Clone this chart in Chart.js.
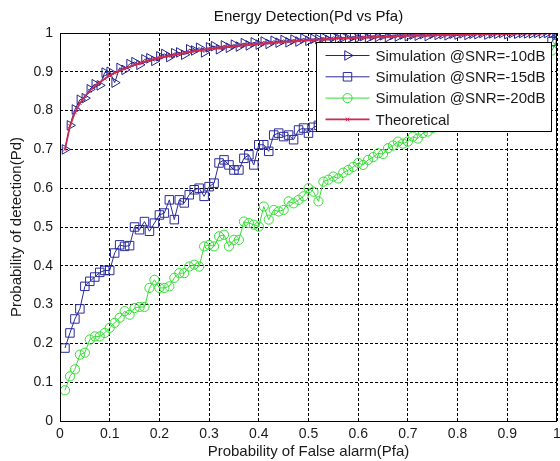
<!DOCTYPE html>
<html>
<head>
<meta charset="utf-8">
<script src="https://cdn.jsdelivr.net/npm/chart.js@4.4.0/dist/chart.umd.min.js"></script>
<style>
    body { margin: 0; background: #fff; }
    #wrap { width: 560px; height: 461px; }
</style>
</head>
<body>
<div id="wrap"><canvas id="rocChart" width="560" height="461"></canvas></div>
<script>
// Pfa grid (x axis)
const pfa = [
    0.01, 0.02, 0.03, 0.04, 0.05, 0.06, 0.07, 0.08, 0.09, 0.10,
    0.11, 0.12, 0.13, 0.14, 0.15, 0.16, 0.17, 0.18, 0.19, 0.20,
    0.21, 0.22, 0.23, 0.24, 0.25, 0.26, 0.27, 0.28, 0.29, 0.30,
    0.31, 0.32, 0.33, 0.34, 0.35, 0.36, 0.37, 0.38, 0.39, 0.40,
    0.41, 0.42, 0.43, 0.44, 0.45, 0.46, 0.47, 0.48, 0.49, 0.50,
    0.51, 0.52, 0.53, 0.54, 0.55, 0.56, 0.57, 0.58, 0.59, 0.60,
    0.61, 0.62, 0.63, 0.64, 0.65, 0.66, 0.67, 0.68, 0.69, 0.70,
    0.71, 0.72, 0.73, 0.74, 0.75, 0.76, 0.77, 0.78, 0.79, 0.80,
    0.81, 0.82, 0.83, 0.84, 0.85, 0.86, 0.87, 0.88, 0.89, 0.90,
    0.91, 0.92, 0.93, 0.94, 0.95, 0.96, 0.97, 0.98, 0.99, 1.00
];

// Pd values
const pdSnr10 = [
    0.700, 0.762, 0.803, 0.828, 0.832, 0.855, 0.868, 0.865, 0.898, 0.900,
    0.872, 0.910, 0.905, 0.920, 0.925, 0.918, 0.932, 0.935, 0.928, 0.940,
    0.946, 0.938, 0.948, 0.950, 0.944, 0.958, 0.955, 0.962, 0.950, 0.963,
    0.966, 0.958, 0.968, 0.962, 0.970, 0.965, 0.974, 0.968, 0.976, 0.970,
    0.978, 0.972, 0.980, 0.975, 0.982, 0.976, 0.983, 0.978, 0.986, 0.980,
    0.985, 0.984, 0.988, 0.982, 0.990, 0.986, 0.989, 0.985, 0.991, 0.988,
    0.992, 0.987, 0.993, 0.990, 0.994, 0.989, 0.995, 0.991, 0.996, 0.992,
    0.996, 0.993, 0.997, 0.992, 0.998, 0.995, 0.997, 0.994, 0.998, 0.996,
    0.999, 0.995, 0.998, 0.997, 1.000, 0.996, 0.999, 0.998, 1.000, 0.997,
    1.000, 0.998, 1.000, 0.999, 0.999, 1.000, 0.999, 1.000, 1.000, 1.000
];
const pdSnr15 = [
    0.188, 0.227, 0.263, 0.289, 0.347, 0.360, 0.371, 0.383, 0.388, 0.388,
    0.433, 0.454, 0.450, 0.452, 0.500, 0.493, 0.514, 0.489, 0.510, 0.531,
    0.536, 0.570, 0.519, 0.570, 0.562, 0.583, 0.596, 0.600, 0.579, 0.604,
    0.613, 0.665, 0.673, 0.660, 0.647, 0.647, 0.677, 0.686, 0.660, 0.712,
    0.712, 0.695, 0.737, 0.742, 0.733, 0.737, 0.725, 0.750, 0.755, 0.742,
    0.757, 0.762, 0.768, 0.772, 0.770, 0.778, 0.784, 0.780, 0.790, 0.795,
    0.800, 0.805, 0.803, 0.812, 0.818, 0.815, 0.825, 0.830, 0.828, 0.836,
    0.842, 0.840, 0.850, 0.855, 0.853, 0.862, 0.866, 0.864, 0.872, 0.878,
    0.876, 0.884, 0.888, 0.892, 0.895, 0.900, 0.904, 0.908, 0.912, 0.918,
    0.922, 0.926, 0.932, 0.936, 0.942, 0.948, 0.955, 0.963, 0.978, 0.995
];
const pdSnr20 = [
    0.079, 0.115, 0.133, 0.171, 0.176, 0.210, 0.218, 0.218, 0.227, 0.240,
    0.253, 0.266, 0.283, 0.274, 0.291, 0.294, 0.294, 0.343, 0.364, 0.343,
    0.343, 0.347, 0.369, 0.381, 0.381, 0.398, 0.403, 0.398, 0.450, 0.454,
    0.450, 0.476, 0.480, 0.450, 0.467, 0.467, 0.514, 0.510, 0.506, 0.501,
    0.553, 0.519, 0.544, 0.540, 0.544, 0.566, 0.561, 0.570, 0.579, 0.600,
    0.591, 0.566, 0.617, 0.622, 0.630, 0.625, 0.640, 0.647, 0.655, 0.665,
    0.660, 0.673, 0.680, 0.690, 0.688, 0.703, 0.710, 0.720, 0.715, 0.720,
    0.733, 0.728, 0.742, 0.746, 0.755, 0.758, 0.765, 0.772, 0.779, 0.786,
    0.790, 0.800, 0.806, 0.812, 0.818, 0.826, 0.834, 0.840, 0.848, 0.856,
    0.865, 0.872, 0.880, 0.890, 0.900, 0.910, 0.922, 0.935, 0.955, 0.982
];
const pdTheory = [
    0.700, 0.760, 0.795, 0.819, 0.837, 0.851, 0.863, 0.873, 0.882, 0.890,
    0.897, 0.903, 0.908, 0.913, 0.918, 0.922, 0.926, 0.930, 0.933, 0.936,
    0.939, 0.941, 0.944, 0.946, 0.949, 0.951, 0.953, 0.955, 0.957, 0.959,
    0.960, 0.962, 0.963, 0.965, 0.966, 0.967, 0.969, 0.970, 0.971, 0.972,
    0.973, 0.974, 0.975, 0.976, 0.977, 0.978, 0.979, 0.980, 0.981, 0.982,
    0.982, 0.983, 0.984, 0.984, 0.985, 0.986, 0.986, 0.987, 0.987, 0.988,
    0.988, 0.989, 0.989, 0.990, 0.990, 0.991, 0.991, 0.992, 0.992, 0.993,
    0.993, 0.993, 0.994, 0.994, 0.994, 0.995, 0.995, 0.995, 0.996, 0.996,
    0.996, 0.996, 0.997, 0.997, 0.997, 0.997, 0.998, 0.998, 0.998, 0.998,
    0.998, 0.999, 0.999, 0.999, 0.999, 0.999, 0.999, 1.000, 1.000, 1.000
];

const seriesNames = ['Simulation @SNR=-10dB', 'Simulation @SNR=-15dB', 'Simulation @SNR=-20dB', 'Theoretical'];
const xTicks = [0, 0.1, 0.2, 0.3, 0.4, 0.5, 0.6, 0.7, 0.8, 0.9, 1];
const yTicks = [0, 0.1, 0.2, 0.3, 0.4, 0.5, 0.6, 0.7, 0.8, 0.9, 1];

const toPoints = vals => vals.map((v, i) => ({ x: pfa[i], y: v }));

Chart.defaults.font.family = 'Arial, "Liberation Sans", Helvetica, sans-serif';
Chart.defaults.color = '#1a1a1a';

// axes box + legend inside the plot, drawn on top of the lines (like matlab)
const boxLegend = {
    id: 'boxLegend',
    afterDatasetsDraw(chart) {
        const ctx = chart.ctx;
        const area = chart.chartArea;
        ctx.save();
        ctx.strokeStyle = '#000';
        ctx.lineWidth = 1;
        ctx.setLineDash([]);
        ctx.strokeRect(Math.round(area.left) + 0.5, Math.round(area.top) + 0.5,
            Math.round(area.right - area.left) - 1, Math.round(area.bottom - area.top));

        const w = 235, h = 89;
        const lx = Math.round(area.right) - 6 - w + 0.5;
        const ly = Math.round(area.top) + 9 + 0.5;
        ctx.fillStyle = '#fff';
        ctx.fillRect(lx, ly, w, h);
        ctx.strokeRect(lx, ly, w, h);

        ctx.font = '15px Arial, "Liberation Sans", sans-serif';
        ctx.textBaseline = 'middle';
        chart.data.datasets.forEach((ds, i) => {
            const y = ly + 13 + i * 21.3;
            ctx.strokeStyle = ds.borderColor;
            ctx.lineWidth = ds.borderWidth;
            ctx.beginPath();
            ctx.moveTo(lx + 9, y);
            ctx.lineTo(lx + 53, y);
            ctx.stroke();
            ctx.fillStyle = 'rgba(0,0,0,0)';
            ctx.lineWidth = 1;
            Chart.helpers.drawPoint(ctx, {
                pointStyle: ds.pointStyle,
                rotation: ds.pointRotation || 0,
                radius: ds.pointRadius,
                borderWidth: 1
            }, lx + 31, y);
            ctx.fillStyle = '#1a1a1a';
            ctx.fillText(ds.label, lx + 59, y + 1);
        });
        ctx.restore();
    }
};

const ctx = document.getElementById('rocChart').getContext('2d');
new Chart(ctx, {
    type: 'line',
    data: {
        datasets: [
            {
                label: seriesNames[0],
                data: toPoints(pdSnr10),
                borderColor: '#23238f',
                borderWidth: 1,
                pointStyle: 'triangle',
                pointRotation: 90,
                pointRadius: 5.5,
                pointBorderWidth: 1,
                pointBackgroundColor: 'rgba(0,0,0,0)',
                order: 1
            },
            {
                label: seriesNames[1],
                data: toPoints(pdSnr15),
                borderColor: '#2b2b9c',
                borderWidth: 1,
                pointStyle: 'rect',
                pointRadius: 6,
                pointBorderWidth: 1,
                pointBackgroundColor: 'rgba(0,0,0,0)',
                order: 2
            },
            {
                label: seriesNames[2],
                data: toPoints(pdSnr20),
                borderColor: '#33dd33',
                borderWidth: 1,
                pointStyle: 'circle',
                pointRadius: 4.6,
                pointBorderWidth: 1,
                pointBackgroundColor: 'rgba(0,0,0,0)',
                order: 3
            },
            {
                label: seriesNames[3],
                data: toPoints(pdTheory),
                borderColor: '#cc2a50',
                borderWidth: 1.8,
                pointStyle: 'crossRot',
                pointRadius: 2.5,
                pointBorderWidth: 1,
                pointBackgroundColor: 'rgba(0,0,0,0)',
                order: 0
            }
        ]
    },
    options: {
        responsive: false,
        animation: false,
        layout: { autoPadding: false, padding: { left: 0, right: 3, top: 0, bottom: 0 } },
        elements: { line: { tension: 0 } },
        plugins: {
            legend: { display: false },
            tooltip: { enabled: false },
            title: {
                display: true,
                fullSize: false,
                text: 'Energy Detection(Pd vs Pfa)',
                color: '#111',
                font: { size: 15, weight: 'normal' },
                padding: { top: 8, bottom: 7 }
            }
        },
        scales: {
            x: {
                type: 'linear',
                min: 0,
                max: 1,
                afterBuildTicks: s => { s.ticks = xTicks.map(v => ({ value: v })); },
                afterFit: s => { s.height = 40; s.paddingLeft = 0; s.paddingRight = 0; },
                ticks: {
                    font: { size: 14 }, padding: 5, maxRotation: 0, autoSkip: false,
                    callback: v => String(v)
                },
                grid: { color: '#000', lineWidth: 1, drawTicks: false },
                border: { display: false, dash: [3, 2] },
                title: {
                    display: true,
                    text: 'Probability of False alarm(Pfa)',
                    font: { size: 15 },
                    padding: { top: 0, bottom: 0 }
                }
            },
            y: {
                min: 0,
                max: 1,
                afterBuildTicks: s => { s.ticks = yTicks.map(v => ({ value: v })); },
                afterFit: s => { s.width = 60; },
                ticks: {
                    font: { size: 14 }, padding: 7, autoSkip: false,
                    callback: v => String(v)
                },
                grid: { color: '#000', lineWidth: 1, drawTicks: false },
                border: { display: false, dash: [3, 2] },
                title: {
                    display: true,
                    text: 'Probability of detection(Pd)',
                    font: { size: 15 },
                    padding: { top: 8, bottom: 0 }
                }
            }
        }
    },
    plugins: [boxLegend]
});
</script>
</body>
</html>
